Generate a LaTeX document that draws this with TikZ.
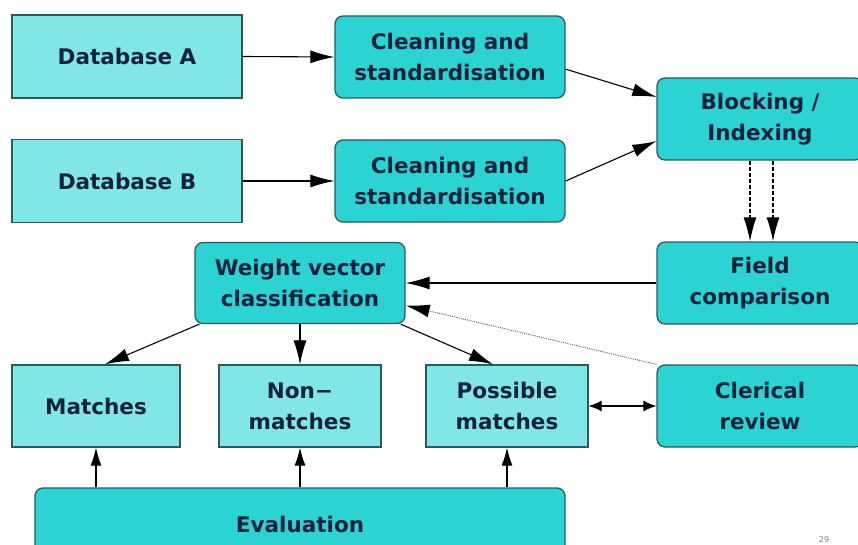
\documentclass[tikz,border=0pt]{standalone}
\usepackage{fontspec}
\setmainfont{DejaVu Sans}
\usepackage{xcolor}
\usetikzlibrary{arrows.meta, positioning, calc}

\definecolor{datacyan}{HTML}{80E6E6}
\definecolor{stepcyan}{HTML}{2CD3D3}
\definecolor{boxedge}{HTML}{2A5A5E}
\definecolor{labelnavy}{HTML}{12223A}

\begin{document}
\begin{tikzpicture}[x=1pt, y=-1pt,
    box/.style={draw=boxedge, line width=1.3pt, text=labelnavy, align=center,
        inner sep=0pt, font=\fontsize{21.5}{31}\selectfont\bfseries},
    database/.style={box, fill=datacyan, minimum width=230pt, minimum height=83pt},
    process/.style={box, fill=stepcyan, rounded corners=8pt},
    outcome/.style={box, fill=datacyan, minimum height=82pt},
    flow/.style={-{Latex[length=24pt,width=13pt]}, line width=1.1pt},
    shortflow/.style={-{Latex[length=18pt,width=11pt]}, line width=1.1pt}
]
    % Page size
    \useasboundingbox (0,0) rectangle (858,545);

    % Input databases
    \node[database] (dbA) at (127,56.5) {Database A};
    \node[database] (dbB) at (127,181)  {Database B};

    % Processing steps
    \node[process, minimum width=230pt, minimum height=82pt] (cleanA) at (450,57)  {Cleaning and\\standardisation};
    \node[process, minimum width=230pt, minimum height=82pt] (cleanB) at (450,181) {Cleaning and\\standardisation};
    \node[process, minimum width=206pt, minimum height=82pt] (block)  at (760,119) {Blocking /\\Indexing};
    \node[process, minimum width=206pt, minimum height=82pt] (field)  at (760,283) {Field\\comparison};
    \node[process, minimum width=210pt, minimum height=81pt] (weight) at (300,283) {Weight vector\\classification};
    \node[process, minimum width=206pt, minimum height=82pt] (cler)   at (760,406) {Clerical\\review};
    \node[process, minimum width=530pt, minimum height=72pt] (eval)   at (300,524) {Evaluation};

    % Classification outcomes
    \node[outcome, minimum width=168pt] (matches) at (96,406)  {Matches};
    \node[outcome, minimum width=162pt] (nonm)    at (300,406) {Non−\\matches};
    \node[outcome, minimum width=162pt] (poss)    at (507,406) {Possible\\matches};

    % Page number
    \node[text=gray, font=\fontsize{8}{8}\selectfont] (pagenum) at (824,540) {29};

    % Cleaning
    \draw[flow] (dbA.east) -- (cleanA.west);
    \draw[flow] (dbB.east) -- (cleanB.west);

    % Into blocking
    \draw[flow] (cleanA.-6) -- (block.168);
    \draw[flow] (cleanB.east) -- (block.192);

    % Candidate pairs
    \draw[flow, dash pattern=on 4pt off 2pt] ([xshift=-10pt]block.south) -- ([xshift=-10pt]field.north);
    \draw[flow, dash pattern=on 4pt off 2pt] ([xshift=13pt]block.south) -- ([xshift=13pt]field.north);

    % Comparison and review feedback
    \draw[flow] (field.west) -- (weight.east);
    \draw[-{Latex[length=24pt,width=13pt,color=black]}, gray!70!black, densely dotted, line width=0.9pt]
        (cler.north west) -- (weight.-12);

    % Classification
    \draw[flow] ([xshift=5pt]weight.south west) -- ([xshift=9pt]matches.north);
    \draw[flow] (weight.south) -- (nonm.north);
    \draw[flow] ([xshift=-5pt]weight.south east) -- ([xshift=-14pt]poss.north);
    \draw[{Latex[length=13pt,width=11pt]}-{Latex[length=13pt,width=11pt]}, line width=1.1pt]
        (poss.east) -- (cler.west);

    % Evaluation
    \draw[shortflow] (eval.north -| matches.south) -- (matches.south);
    \draw[shortflow] (eval.north -| nonm.south) -- (nonm.south);
    \draw[shortflow] (eval.north -| poss.south) -- (poss.south);
\end{tikzpicture}
\end{document}
